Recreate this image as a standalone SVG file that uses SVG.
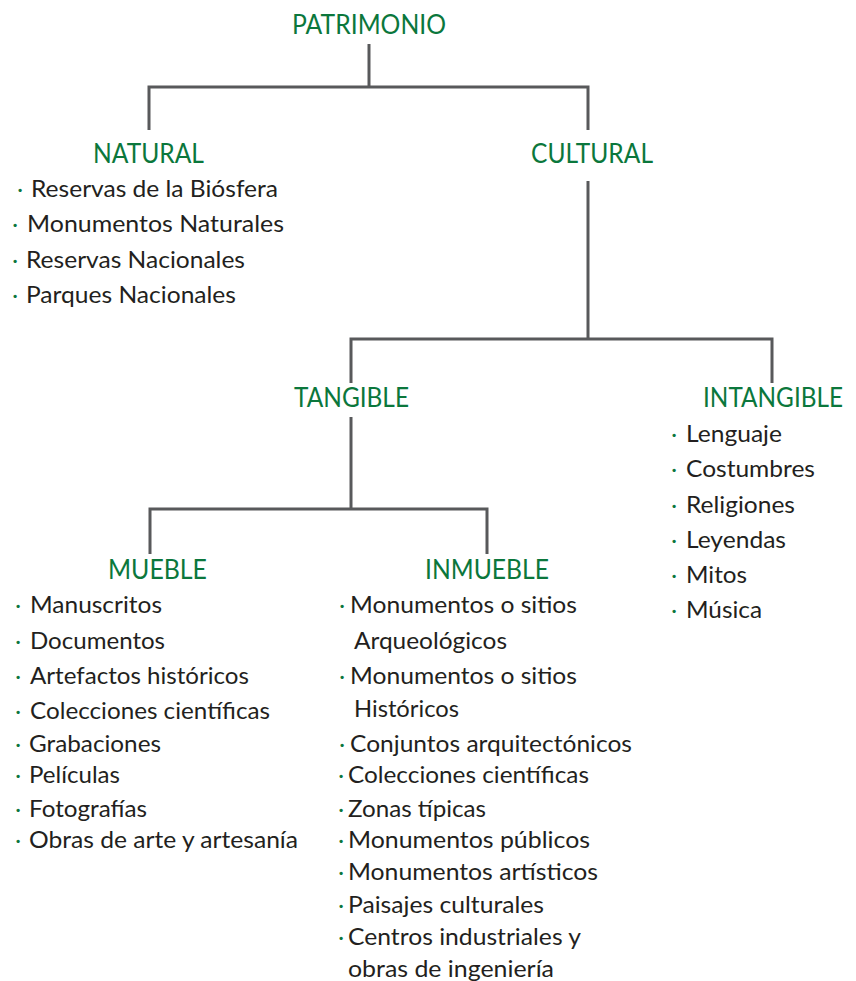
<svg xmlns="http://www.w3.org/2000/svg" width="856" height="981" viewBox="0 0 856 981">
<style>
.h{font-family:Lato,"Open Sans",sans-serif;font-size:26px;fill:#0b773c;}
.t{font-family:Lato,"Open Sans",sans-serif;font-size:23px;fill:#231f20;}
.d{font-family:Lato,"Open Sans",sans-serif;font-size:22px;fill:#0b773c;text-anchor:middle;}
.c{fill:none;stroke:#58595b;stroke-width:3;}
</style>
<rect width="856" height="981" fill="#ffffff"/>
<g id="connectors">
<path class="c" d="M369,44 V87"/>
<path class="c" d="M149,130 V87 H588 V130"/>
<path class="c" d="M588,181 V339"/>
<path class="c" d="M351,383 V339 H772 V383"/>
<path class="c" d="M351,417 V509"/>
<path class="c" d="M150,554 V509 H487 V554"/>
</g>
<g id="patrimonio"><text class="h" x="292" y="34" textLength="154" lengthAdjust="spacingAndGlyphs">PATRIMONIO</text></g>
<g id="natural">
<text class="h" x="93" y="163" textLength="111" lengthAdjust="spacingAndGlyphs">NATURAL</text>
<text class="d" x="20" y="197">·</text><text class="t" x="31" y="197" textLength="247" lengthAdjust="spacingAndGlyphs">Reservas de la Biósfera</text>
<text class="d" x="15" y="232">·</text><text class="t" x="27" y="232" textLength="257" lengthAdjust="spacingAndGlyphs">Monumentos Naturales</text>
<text class="d" x="15" y="268">·</text><text class="t" x="26" y="268" textLength="219" lengthAdjust="spacingAndGlyphs">Reservas Nacionales</text>
<text class="d" x="15" y="303">·</text><text class="t" x="26" y="303" textLength="210" lengthAdjust="spacingAndGlyphs">Parques Nacionales</text>
</g>
<g id="cultural"><text class="h" x="531" y="163" textLength="122" lengthAdjust="spacingAndGlyphs">CULTURAL</text></g>
<g id="tangible"><text class="h" x="294" y="407" textLength="115" lengthAdjust="spacingAndGlyphs">TANGIBLE</text></g>
<g id="intangible">
<text class="h" x="703" y="407" textLength="140" lengthAdjust="spacingAndGlyphs">INTANGIBLE</text>
<text class="d" x="674" y="442">·</text><text class="t" x="686" y="442" textLength="96" lengthAdjust="spacingAndGlyphs">Lenguaje</text>
<text class="d" x="674" y="477">·</text><text class="t" x="686" y="477" textLength="129" lengthAdjust="spacingAndGlyphs">Costumbres</text>
<text class="d" x="674" y="513">·</text><text class="t" x="686" y="513" textLength="109" lengthAdjust="spacingAndGlyphs">Religiones</text>
<text class="d" x="674" y="548">·</text><text class="t" x="686" y="548" textLength="100" lengthAdjust="spacingAndGlyphs">Leyendas</text>
<text class="d" x="674" y="583">·</text><text class="t" x="686" y="583" textLength="61" lengthAdjust="spacingAndGlyphs">Mitos</text>
<text class="d" x="674" y="618">·</text><text class="t" x="686" y="618" textLength="76" lengthAdjust="spacingAndGlyphs">Música</text>
</g>
<g id="mueble">
<text class="h" x="108" y="579" textLength="99" lengthAdjust="spacingAndGlyphs">MUEBLE</text>
<text class="d" x="18" y="613">·</text><text class="t" x="30" y="613" textLength="132" lengthAdjust="spacingAndGlyphs">Manuscritos</text>
<text class="d" x="18" y="649">·</text><text class="t" x="30" y="649" textLength="135" lengthAdjust="spacingAndGlyphs">Documentos</text>
<text class="d" x="18" y="684">·</text><text class="t" x="30" y="684" textLength="219" lengthAdjust="spacingAndGlyphs">Artefactos históricos</text>
<text class="d" x="18" y="719">·</text><text class="t" x="30" y="719" textLength="240" lengthAdjust="spacingAndGlyphs">Colecciones científicas</text>
<text class="d" x="18" y="752">·</text><text class="t" x="29" y="752" textLength="132" lengthAdjust="spacingAndGlyphs">Grabaciones</text>
<text class="d" x="18" y="783">·</text><text class="t" x="29" y="783" textLength="91" lengthAdjust="spacingAndGlyphs">Películas</text>
<text class="d" x="18" y="817">·</text><text class="t" x="29" y="817" textLength="118" lengthAdjust="spacingAndGlyphs">Fotografías</text>
<text class="d" x="18" y="848">·</text><text class="t" x="29" y="848" textLength="269" lengthAdjust="spacingAndGlyphs">Obras de arte y artesanía</text>
</g>
<g id="inmueble">
<text class="h" x="425" y="579" textLength="124" lengthAdjust="spacingAndGlyphs">INMUEBLE</text>
<text class="d" x="342" y="613">·</text><text class="t" x="350" y="613" textLength="227" lengthAdjust="spacingAndGlyphs">Monumentos o sitios</text>
<text class="t" x="354" y="649" textLength="153" lengthAdjust="spacingAndGlyphs">Arqueológicos</text>
<text class="d" x="342" y="684">·</text><text class="t" x="350" y="684" textLength="227" lengthAdjust="spacingAndGlyphs">Monumentos o sitios</text>
<text class="t" x="354" y="717" textLength="105" lengthAdjust="spacingAndGlyphs">Históricos</text>
<text class="d" x="342" y="752">·</text><text class="t" x="350" y="752" textLength="282" lengthAdjust="spacingAndGlyphs">Conjuntos arquitectónicos</text>
<text class="d" x="341" y="783">·</text><text class="t" x="348" y="783" textLength="241" lengthAdjust="spacingAndGlyphs">Colecciones científicas</text>
<text class="d" x="341" y="817">·</text><text class="t" x="348" y="817" textLength="138" lengthAdjust="spacingAndGlyphs">Zonas típicas</text>
<text class="d" x="341" y="848">·</text><text class="t" x="348" y="848" textLength="242" lengthAdjust="spacingAndGlyphs">Monumentos públicos</text>
<text class="d" x="341" y="880">·</text><text class="t" x="348" y="880" textLength="250" lengthAdjust="spacingAndGlyphs">Monumentos artísticos</text>
<text class="d" x="341" y="913">·</text><text class="t" x="348" y="913" textLength="196" lengthAdjust="spacingAndGlyphs">Paisajes culturales</text>
<text class="d" x="341" y="945">·</text><text class="t" x="348" y="945" textLength="233" lengthAdjust="spacingAndGlyphs">Centros industriales y</text>
<text class="t" x="348" y="977" textLength="206" lengthAdjust="spacingAndGlyphs">obras de ingeniería</text>
</g>
</svg>
